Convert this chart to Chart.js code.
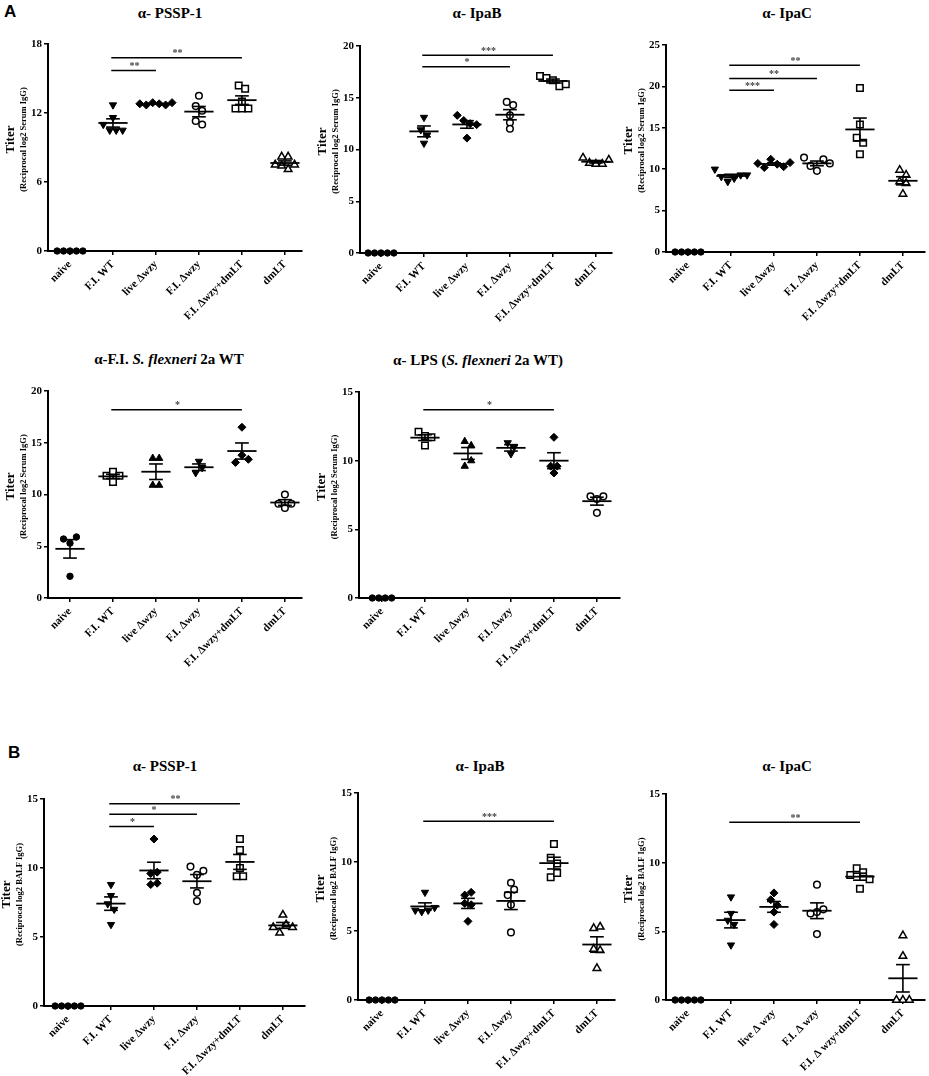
<!DOCTYPE html>
<html>
<head>
<meta charset="utf-8">
<script src="https://cdn.jsdelivr.net/npm/chart.js@4.4.1/dist/chart.umd.min.js"></script>
<style>
  body { margin: 0; background: #fff; width: 929px; height: 1076px; position: relative; overflow: hidden; }
  canvas { position: absolute; }
  .ttl { position: absolute; font: bold 15px 'Liberation Serif', serif; line-height: 18px; transform: translateX(-50%); white-space: nowrap; color: #000; }
  .lbl { position: absolute; font: bold 17px 'Liberation Sans', sans-serif; color: #000; }
</style>
</head>
<body>
<div class="lbl" style="left:4px;top:2px">A</div>
<div class="lbl" style="left:8px;top:743px">B</div>
<script>
// ---- categories ----
var catsA = ['naive', 'F.I. WT', 'live \u0394wzy', 'F.I. \u0394wzy', 'F.I. \u0394wzy+dmLT', 'dmLT'];
var catsB3 = ['naive', 'F.I. WT', 'live \u0394 wzy', 'F.I. \u0394 wzy', 'F.I. \u0394 wzy+dmLT', 'dmLT'];

// ---- tick values ----
var ticksA1 = [0, 6, 12, 18];
var ticksA2 = [0, 5, 10, 15, 20];
var ticksA3 = [0, 5, 10, 15, 20, 25];
var ticksA4 = [0, 5, 10, 15, 20];
var ticksA5 = [0, 5, 10, 15];
var ticksB = [0, 5, 10, 15];

// ---- serum IgG (A) ----
var pssp1Serum = [
  [0, 0, 0, 0, 0],
  [12.7, 11.6, 11.0, 10.5, 10.5, 10.5],
  [12.8, 12.7, 12.9, 12.8, 12.7, 12.9],
  [13.5, 12.6, 12.2, 11.3, 11.0],
  [14.4, 14.1, 13.0, 12.4, 12.4, 12.4],
  [8.2, 8.2, 7.5, 7.4, 7.1, 7.5]
];
var ipaBSerum = [
  [0, 0, 0, 0, 0],
  [13.1, 11.9, 11.4, 10.6],
  [13.3, 12.8, 12.5, 12.4, 11.1],
  [14.6, 14.3, 13.3, 12.6, 12.0],
  [17.1, 16.9, 16.7, 16.1, 16.3],
  [9.2, 8.7, 8.6, 8.6, 9.0]
];
var ipaCSerum = [
  [0, 0, 0, 0, 0],
  [10.0, 9.1, 8.5, 8.9, 9.3, 9.3],
  [10.7, 10.2, 11.2, 10.6, 10.3, 10.8],
  [11.4, 10.4, 9.8, 11.2, 10.7],
  [19.8, 15.4, 13.8, 13.2, 11.8],
  [9.9, 8.5, 8.3, 9.3, 7.0]
];
var wholeCellSerum = [
  [5.7, 2.1, 5.3, 5.9],
  [11.8, 11.2, 12.2, 11.8],
  [10.9, 13.5, 13.5, 10.9],
  [12.1, 13.2, 12.6],
  [13.1, 16.5, 13.8, 13.4],
  [9.1, 8.7, 10.0, 9.1]
];
var lpsSerum = [
  [0, 0, 0, 0],
  [11.1, 12.1, 11.8, 11.7],
  [9.6, 11.4, 10.0, 11.1],
  [10.5, 11.3, 11.0],
  [9.1, 11.7, 9.6, 9.6],
  [7.4, 6.2, 7.2, 7.4]
];

// ---- BALF IgG (B) ----
var pssp1Balf = [
  [0, 0, 0, 0, 0],
  [8.8, 8.0, 7.4, 7.0, 5.9],
  [8.8, 12.1, 9.6, 9.7, 8.9],
  [10.1, 8.2, 7.6, 9.5, 9.8],
  [12.1, 11.3, 10.0, 9.4, 9.4],
  [5.7, 5.3, 6.6, 5.9, 5.7]
];
var ipaBBalf = [
  [0, 0, 0, 0, 0],
  [6.5, 6.4, 7.8, 6.5, 6.7],
  [7.6, 5.7, 7.0, 7.8, 6.9],
  [7.6, 6.9, 4.9, 8.5, 8.0],
  [8.9, 10.3, 11.3, 9.2, 9.9],
  [5.2, 3.7, 2.3, 5.3, 3.6]
];
var ipaCBalf = [
  [0, 0, 0, 0, 0],
  [5.8, 4.0, 7.5, 6.3, 5.5],
  [5.5, 7.3, 7.8, 6.9, 6.4],
  [4.8, 6.3, 8.4, 6.4, 6.6],
  [9.1, 8.1, 9.6, 9.3, 8.8],
  [0, 0, 4.7, 3.2, 0]
];

// ---- significance: [from group, to group, label, level] ----
var sigA1 = [[1, 2, '**', 15.7], [1, 4, '**', 16.8]];
var sigA2 = [[1, 3, '*', 18.0], [1, 4, '***', 19.1]];
var sigA3 = [[1, 2, '***', 19.55], [1, 3, '**', 20.95], [1, 4, '**', 22.55]];
var sigA4 = [[1, 4, '*', 18.2]];
var sigA5 = [[1, 4, '*', 13.7]];
var sigB1 = [[1, 2, '*', 13.0], [1, 3, '*', 13.9], [1, 4, '**', 14.65]];
var sigB2 = [[1, 4, '***', 12.95]];
var sigB3 = [[1, 4, '**', 12.95]];

// marker sets
var markA = ['fcircle', 'fdown', 'fdiamond', 'ocircle', 'osquare', 'otri'];
var markWC = ['fcircle', 'osquare', 'fup', 'fdown', 'fdiamond', 'ocircle'];

var MARKERS = {
  fcircle:  { style: 'circle',   r: 3.2, rot: 0,   filled: true },
  fdown:    { style: 'triangle', r: 4.2, rot: 180, filled: true },
  fup:      { style: 'triangle', r: 4.2, rot: 0,   filled: true },
  fdiamond: { style: 'rectRot',  r: 4.0, rot: 0,   filled: true },
  ocircle:  { style: 'circle',   r: 3.3, rot: 0,   filled: false },
  osquare:  { style: 'rect',     r: 4.6, rot: 0,   filled: false },
  otri:     { style: 'triangle', r: 4.4, rot: 0,   filled: false }
};

var SERUM = '(Reciprocal log2 Serum IgG)';
var BALF = '(Reciprocal log2 BALF IgG)';

var panels = [
  { title: '\u03b1- PSSP-1', cats: catsA, groups: pssp1Serum, marks: markA, yTicks: ticksA1, sig: sigA1, sub: SERUM,
    box: { left: 0, axX: 48, axR: 302, yTop: 44, yZero: 251, cat0: 70, tx: 170, ty: 4 } },
  { title: '\u03b1- IpaB', cats: catsA, groups: ipaBSerum, marks: markA, yTicks: ticksA2, sig: sigA2, sub: SERUM,
    box: { left: 310, axX: 360, axR: 612, yTop: 46, yZero: 253, cat0: 381, tx: 477, ty: 4 } },
  { title: '\u03b1- IpaC', cats: catsA, groups: ipaCSerum, marks: markA, yTicks: ticksA3, sig: sigA3, sub: SERUM,
    box: { left: 620, axX: 666, axR: 925, yTop: 45, yZero: 252, cat0: 688, tx: 787, ty: 4 } },
  { title: '\u03b1-F.I. <i>S. flexneri</i> 2a WT', cats: catsA, groups: wholeCellSerum, marks: markWC, yTicks: ticksA4, sig: sigA4, sub: SERUM,
    box: { left: 0, axX: 48, axR: 302, yTop: 391, yZero: 598, cat0: 70, tx: 169, ty: 350 } },
  { title: '\u03b1- LPS (<i>S. flexneri</i> 2a WT)', cats: catsA, groups: lpsSerum, marks: markWC, yTicks: ticksA5, sig: sigA5, sub: SERUM,
    box: { left: 310, axX: 359, axR: 620, yTop: 392, yZero: 598, cat0: 382, tx: 478, ty: 351 } },
  { title: '\u03b1- PSSP-1', cats: catsA, groups: pssp1Balf, marks: markA, yTicks: ticksB, sig: sigB1, sub: BALF,
    box: { left: 0, axX: 44, axR: 305, yTop: 799, yZero: 1006, cat0: 68, tx: 165, ty: 757 } },
  { title: '\u03b1- IpaB', cats: catsA, groups: ipaBBalf, marks: markA, yTicks: ticksB, sig: sigB2, sub: BALF,
    box: { left: 310, axX: 358, axR: 615, yTop: 793, yZero: 1000, cat0: 382, tx: 480, ty: 757 } },
  { title: '\u03b1- IpaC', cats: catsB3, groups: ipaCBalf, marks: markA, yTicks: ticksB, sig: sigB3, sub: BALF,
    box: { left: 620, axX: 666, axR: 925, yTop: 794, yZero: 1000, cat0: 688, tx: 787, ty: 757 } }
];

var STEP_PX = 43;   // category spacing
var TOP_PAD = 22, BOTTOM_H = 86, RIGHT_PAD = 6;

// spread points that sit close together (column scatter)
function spread(vals, thr, step) {
  var idx = vals.map(function (v, i) { return i; }).sort(function (a, b) { return vals[a] - vals[b] || a - b; });
  var off = vals.map(function () { return 0; });
  var cl = [idx[0]];
  function flush() {
    var s = cl.slice().sort(function (a, b) { return a - b; });
    s.forEach(function (k, j) { off[k] = (j - (s.length - 1) / 2) * step; });
  }
  for (var m = 1; m < idx.length; m++) {
    if (vals[idx[m]] - vals[idx[m - 1]] < thr) cl.push(idx[m]);
    else { flush(); cl = [idx[m]]; }
  }
  flush();
  return off;
}

function extras(p) {
  return {
    id: 'extras',
    afterDatasetsDraw: function (chart) {
      var ctx = chart.ctx, x = chart.scales.x, y = chart.scales.y;
      function hline(x0, x1, v, w) {
        ctx.lineWidth = w;
        ctx.beginPath();
        ctx.moveTo(x.getPixelForValue(x0), y.getPixelForValue(v));
        ctx.lineTo(x.getPixelForValue(x1), y.getPixelForValue(v));
        ctx.stroke();
      }
      ctx.save();
      ctx.strokeStyle = '#000';
      p.groups.forEach(function (vals, i) {
        var n = vals.length;
        var mean = vals.reduce(function (a, b) { return a + b; }, 0) / n;
        var sd = Math.sqrt(vals.reduce(function (a, b) { return a + (b - mean) * (b - mean); }, 0) / (n - 1));
        var sem = sd / Math.sqrt(n);
        hline(i - 0.34, i + 0.34, mean, 1.8);
        if (sem > 0) {
          hline(i - 0.16, i + 0.16, mean + sem, 1.6);
          hline(i - 0.16, i + 0.16, mean - sem, 1.6);
          ctx.beginPath();
          ctx.moveTo(x.getPixelForValue(i), y.getPixelForValue(mean + sem));
          ctx.lineTo(x.getPixelForValue(i), y.getPixelForValue(mean - sem));
          ctx.stroke();
        }
      });
      // significance bars
      ctx.fillStyle = '#444';
      ctx.font = 'bold 10px "Liberation Serif"';
      ctx.textAlign = 'center';
      ctx.textBaseline = 'bottom';
      p.sig.forEach(function (s) {
        hline(s[0] - 0.04, s[1], s[3], 1.5);
        ctx.fillText(s[2], (x.getPixelForValue(s[0]) + x.getPixelForValue(s[1])) / 2, y.getPixelForValue(s[3]) + 1);
      });
      ctx.restore();
    },
    afterDraw: function (chart) {
      var ctx = chart.ctx, a = chart.chartArea;
      var mid = (a.top + a.bottom) / 2 - 8;
      ctx.save();
      ctx.fillStyle = '#000';
      ctx.textAlign = 'center';
      ctx.textBaseline = 'middle';
      ctx.translate(a.left - 37, mid);
      ctx.rotate(-Math.PI / 2);
      ctx.font = 'bold 13px "Liberation Serif"';
      ctx.fillText('Titer', 0, 0);
      ctx.font = 'bold 8.5px "Liberation Serif"';
      ctx.fillText(p.sub, 0, 13);
      ctx.restore();
    }
  };
}

panels.forEach(function (p) {
  var b = p.box;
  var L = b.axX - b.left;
  var w = b.axR - b.left + RIGHT_PAD;
  var h = (b.yZero - b.yTop) + TOP_PAD + BOTTOM_H;
  var yMax = p.yTicks[p.yTicks.length - 1];
  var pxPerUnit = (b.yZero - b.yTop) / yMax;
  var xMin = -(b.cat0 - b.axX) / STEP_PX;
  var xMax = (b.axR - b.cat0) / STEP_PX;

  var t = document.createElement('div');
  t.className = 'ttl';
  t.style.left = b.tx + 'px';
  t.style.top = b.ty + 'px';
  t.innerHTML = p.title;
  document.body.appendChild(t);

  var cv = document.createElement('canvas');
  cv.width = w; cv.height = h;
  cv.style.left = b.left + 'px';
  cv.style.top = (b.yTop - TOP_PAD) + 'px';
  document.body.appendChild(cv);

  var datasets = p.groups.map(function (vals, i) {
    var m = MARKERS[p.marks[i]];
    var off = spread(vals, 6 / pxPerUnit, 0.15);
    return {
      label: p.cats[i],
      data: vals.map(function (v, j) { return { x: i + off[j], y: v }; }),
      pointStyle: m.style,
      pointRadius: m.r,
      pointRotation: m.rot,
      pointBackgroundColor: m.filled ? '#000' : '#fff',
      pointBorderColor: '#000',
      pointBorderWidth: m.filled ? 1 : 1.5,
      showLine: false,
      clip: false
    };
  });

  var xFont = { family: 'Liberation Serif', weight: 'bold', size: 11 };
  var yFont = { family: 'Liberation Serif', weight: 'bold', size: 11 };

  new Chart(cv, {
    type: 'scatter',
    data: { datasets: datasets },
    options: {
      responsive: false,
      animation: false,
      events: [],
      layout: { padding: { top: TOP_PAD, right: RIGHT_PAD, left: 0, bottom: 0 } },
      plugins: { legend: { display: false }, tooltip: { enabled: false } },
      scales: {
        x: {
          type: 'linear',
          min: xMin,
          max: xMax,
          afterBuildTicks: function (s) { s.ticks = p.cats.map(function (c, i) { return { value: i }; }); },
          afterFit: function (s) { s.height = BOTTOM_H; },
          grid: { display: true, drawOnChartArea: false, drawTicks: true, tickLength: 4, color: '#000', lineWidth: 1.5 },
          border: { display: true, color: '#000', width: 2 },
          ticks: {
            autoSkip: false, minRotation: 45, maxRotation: 45, padding: 3,
            color: '#000', font: xFont,
            callback: function (v) { return p.cats[Math.round(v)]; }
          }
        },
        y: {
          min: 0,
          max: yMax,
          afterBuildTicks: function (s) { s.ticks = p.yTicks.map(function (v) { return { value: v }; }); },
          afterFit: function (s) { s.width = L; },
          grid: { display: true, drawOnChartArea: false, drawTicks: true, tickLength: 4, color: '#000', lineWidth: 1.5 },
          border: { display: true, color: '#000', width: 2 },
          ticks: { color: '#000', font: yFont, padding: 2 }
        }
      }
    },
    plugins: [extras(p)]
  });
});
</script>
</body>
</html>
